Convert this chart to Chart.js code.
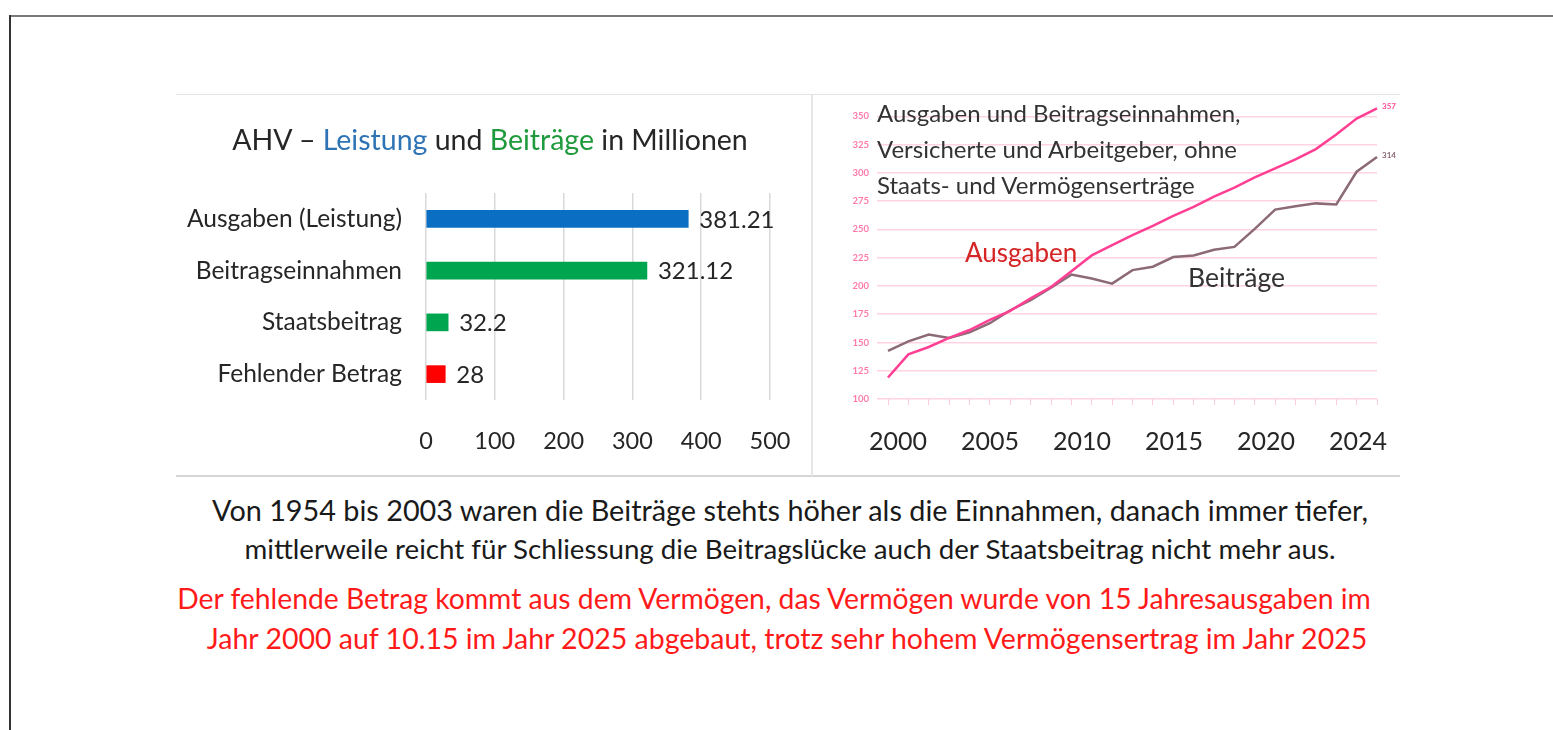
<!DOCTYPE html>
<html>
<head>
<meta charset="utf-8">
<script src="https://cdn.jsdelivr.net/npm/chart.js@4.4.1/dist/chart.umd.min.js"></script>
<style>
  html, body { margin: 0; padding: 0; background: #fff; }
  body { width: 1553px; height: 730px; position: relative; overflow: hidden; font-family: Lato, "Open Sans", sans-serif; }
  .frameTop { position: absolute; left: 9px; top: 15px; width: 1544px; height: 2px; background: #7a7a7a; }
  .frameLeft { position: absolute; left: 9px; top: 15px; width: 2px; height: 715px; background: #333; }
  .panelTop { position: absolute; left: 176px; top: 94px; width: 1224px; height: 1px; background: #e4e4e4; }
  .panelBottom { position: absolute; left: 176px; top: 475px; width: 1224px; height: 2px; background: #d6d6d6; }
  .panelMid { position: absolute; left: 811px; top: 95px; width: 2px; height: 381px; background: #e6e6e6; }
  canvas { position: absolute; }
  #barWrap { position: absolute; left: 176px; top: 96px; width: 634px; height: 380px; }
  #lineWrap { position: absolute; left: 815px; top: 96px; width: 585px; height: 380px; }
  .txt { position: absolute; white-space: nowrap; line-height: 1; transform: translateY(-50%); color: #262626; }
  .ctr { transform: translate(-50%, -50%); }
</style>
</head>
<body>
<div class="frameTop"></div>
<div class="frameLeft"></div>
<div class="panelTop"></div>
<div class="panelBottom"></div>
<div class="panelMid"></div>

<div id="barWrap"><canvas id="barChart"></canvas></div>
<div id="lineWrap"><canvas id="lineChart"></canvas></div>

<div class="txt ctr" style="left:490px; top:139px; font-size:28.5px;">AHV – <span style="color:#2e74b5">Leistung</span> und <span style="color:#1e9a3c">Beiträge</span> in Millionen</div>

<div class="txt" style="left:877px; top:113px; font-size:24px; color:#333;">Ausgaben und Beitragseinnahmen,</div>
<div class="txt" style="left:877px; top:149px; font-size:24px; color:#333;">Versicherte und Arbeitgeber, ohne</div>
<div class="txt" style="left:877px; top:185px; font-size:24px; color:#333;">Staats- und Vermögenserträge</div>
<div class="txt" style="left:965px; top:252px; font-size:26px; color:#d42424;">Ausgaben</div>
<div class="txt" style="left:1188px; top:277px; font-size:26.5px; color:#333;">Beiträge</div>

<div class="txt ctr" style="left:790px; top:510px; font-size:28.8px; color:#1a1a1a;">Von 1954 bis 2003 waren die Beiträge stehts höher als die Einnahmen, danach immer tiefer,</div>
<div class="txt ctr" style="left:790px; top:549px; font-size:27.7px; color:#1a1a1a;">mittlerweile reicht für Schliessung die Beitragslücke auch der Staatsbeitrag nicht mehr aus.</div>
<div class="txt ctr" style="left:774px; top:598px; font-size:28.3px; color:#ff1a1a;">Der fehlende Betrag kommt aus dem Vermögen, das Vermögen wurde von 15 Jahresausgaben im</div>
<div class="txt ctr" style="left:787px; top:638px; font-size:28.5px; color:#ff1a1a;">Jahr 2000 auf 10.15 im Jahr 2025 abgebaut, trotz sehr hohem Vermögensertrag im Jahr 2025</div>

<script>
// left chart: AHV amounts in millions
var barLabels = ["Ausgaben (Leistung)", "Beitragseinnahmen", "Staatsbeitrag", "Fehlender Betrag"];
var barValues = [381.21, 321.12, 32.2, 28];
var barColors = ["#0a6fc2", "#00a64f", "#00a64f", "#ff0000"];

// right chart: yearly series
var years = ["2000", "2001", "2002", "2003", "2004", "2005", "2006", "2007", "2008", "2009",
             "2010", "2011", "2012", "2013", "2014", "2015", "2016", "2017", "2018", "2019",
             "2020", "2021", "2022", "2023", "2024"];
var ausgaben = [119, 139.5, 146, 154, 161, 170, 178, 189, 199, 213,
                227, 236, 245, 253, 262, 270, 279, 287, 296, 304,
                312, 321, 334, 348, 357];
var beitraege = [142.5, 151, 157, 154, 159, 167, 178.5, 187.5, 198.5, 210,
                 206.5, 202, 214, 217, 225.5, 227, 232, 234.5, 250.5, 267.5,
                 270.5, 273, 272, 301, 314];
var yearTicks = ["2000", "2005", "2010", "2015", "2020", "2024"];

var FONT = "Lato";
var NONE = "rgba(0,0,0,0)";

var barValueLabels = {
    id: 'barValueLabels',
    afterDatasetsDraw: function(chart) {
        var ctx = chart.ctx;
        var meta = chart.getDatasetMeta(0);
        ctx.save();
        ctx.font = "24px " + FONT;
        ctx.fillStyle = "#262626";
        ctx.textAlign = "left";
        ctx.textBaseline = "middle";
        meta.data.forEach(function(bar, i) {
            ctx.fillText(String(barValues[i]), bar.x + 11, bar.y + 1);
        });
        ctx.restore();
    }
};

new Chart(document.getElementById("barChart"), {
    type: 'bar',
    data: {
        labels: barLabels,
        datasets: [{
            data: barValues,
            backgroundColor: barColors,
            barThickness: 17
        }]
    },
    options: {
        indexAxis: 'y',
        responsive: true,
        maintainAspectRatio: false,
        animation: false,
        layout: { padding: { left: 0, right: 40, top: 97, bottom: 16 } },
        plugins: { legend: { display: false }, tooltip: { enabled: false } },
        scales: {
            x: {
                min: 0, max: 500,
                ticks: { stepSize: 100, padding: 0, color: "#262626", font: { family: FONT, size: 23.5 } },
                grid: { color: "#d9d9d9", lineWidth: 1.5, drawTicks: true, tickLength: 27, tickColor: NONE },
                border: { display: false },
                afterFit: function(s) { s.height = 60; s.paddingLeft = 0; s.paddingRight = 0; }
            },
            y: {
                ticks: { padding: 24, color: "#262626", font: { family: FONT, size: 24.5 } },
                grid: { display: false, drawTicks: false },
                border: { display: false },
                afterFit: function(s) { s.width = 250; s.paddingTop = 0; s.paddingBottom = 0; }
            }
        }
    },
    plugins: [barValueLabels]
});

var endLabels = {
    id: 'endLabels',
    afterDatasetsDraw: function(chart) {
        var ctx = chart.ctx;
        ctx.save();
        ctx.font = "bold 8px " + FONT;
        ctx.textAlign = "left";
        ctx.textBaseline = "middle";
        chart.data.datasets.forEach(function(ds, i) {
            var pts = chart.getDatasetMeta(i).data;
            var p = pts[pts.length - 1];
            ctx.fillStyle = ds.labelColor;
            ctx.fillText(String(ds.data[ds.data.length - 1]), p.x + 5, p.y - 2);
        });
        ctx.restore();
    }
};

new Chart(document.getElementById("lineChart"), {
    type: 'line',
    data: {
        labels: years,
        datasets: [{
            label: 'Ausgaben',
            data: ausgaben,
            borderColor: "#ff3f93",
            labelColor: "#ff4f9a",
            borderWidth: 2.5,
            pointRadius: 0,
            tension: 0
        }, {
            label: 'Beiträge',
            data: beitraege,
            borderColor: "#8c6a78",
            labelColor: "#8c6a78",
            borderWidth: 2.5,
            pointRadius: 0,
            tension: 0
        }]
    },
    options: {
        responsive: true,
        maintainAspectRatio: false,
        animation: false,
        layout: { padding: { left: 0, right: 23, top: 9, bottom: 21 } },
        plugins: { legend: { display: false }, tooltip: { enabled: false } },
        scales: {
            x: {
                weight: 0,
                offset: false,
                ticks: { display: false, autoSkip: false },
                grid: { drawOnChartArea: false, drawTicks: true, tickLength: 6, color: "#ffc9dc", offset: false },
                border: { display: false },
                afterFit: function(s) { s.height = 6; }
            },
            x2: {
                type: 'linear',
                position: 'bottom',
                weight: 1,
                min: -0.1087, max: 5.2065,
                ticks: {
                    stepSize: 1, includeBounds: false, autoSkip: false, maxRotation: 0,
                    padding: 0, color: "#262626", font: { family: FONT, size: 25 },
                    callback: function(v) { return yearTicks[v] !== undefined ? yearTicks[v] : ''; }
                },
                grid: { drawOnChartArea: false, drawTicks: true, tickLength: 22, tickColor: NONE },
                border: { display: false },
                afterFit: function(s) { s.height = 50; s.paddingLeft = 0; s.paddingRight = 0; }
            },
            y: {
                min: 100, max: 360,
                ticks: { stepSize: 25, includeBounds: false, padding: 8, color: "#ff7aab", font: { family: FONT, size: 9.5, weight: 'bold' } },
                grid: { color: "#ffd3e2", lineWidth: 1.5, tickLength: 11 },
                border: { display: false },
                afterFit: function(s) { s.width = 73; s.paddingTop = 0; s.paddingBottom = 0; }
            }
        }
    },
    plugins: [endLabels]
});
</script>
</body>
</html>
